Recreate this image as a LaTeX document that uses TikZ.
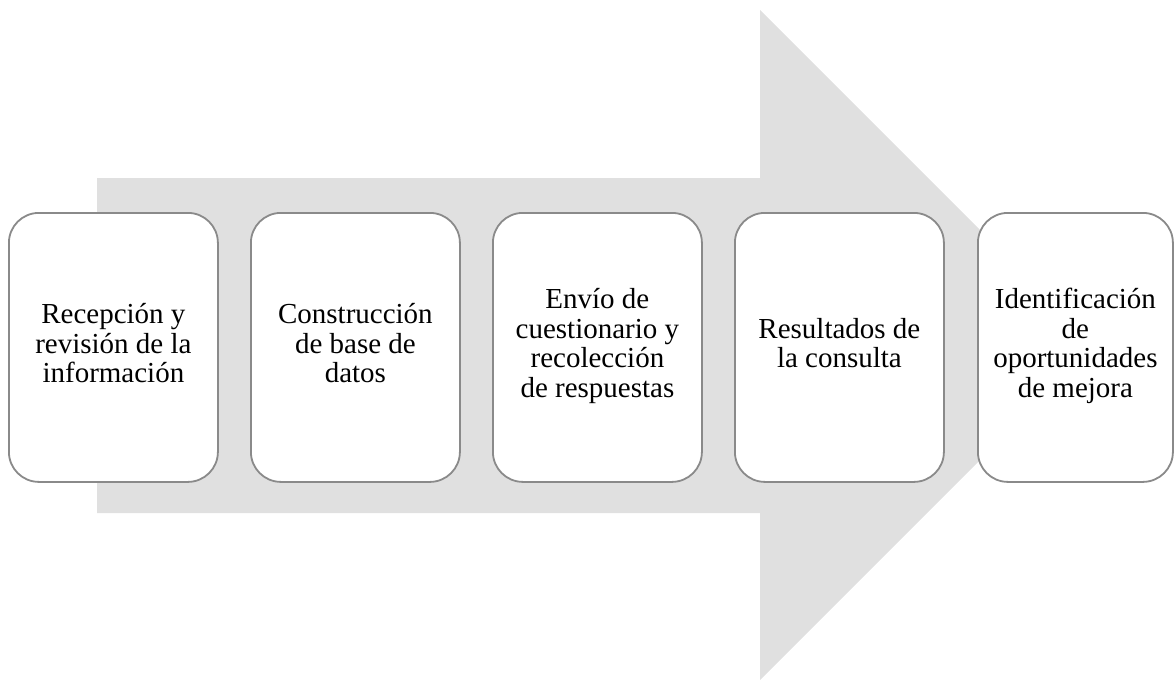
\documentclass[tikz,border=0pt]{standalone}
\usepackage{fontspec}
\setmainfont{Liberation Serif}
\definecolor{arrowgray}{RGB}{224,224,224}
\definecolor{boxline}{RGB}{138,138,138}
\tikzset{
  stepbox/.style={draw=boxline, line width=1.8pt, fill=white, rounded corners=30pt,
    inner sep=0pt, align=center, anchor=north west,
    font=\fontsize{29}{29.6}\selectfont,
    execute at begin node=\strut, execute at end node=\strut},
}
\begin{document}
\begin{tikzpicture}[x=1pt,y=-1pt]
\useasboundingbox (0,0) rectangle (1174,680);
% big arrow
\fill[arrowgray] (97,178) -- (760,178) -- (760,10) -- (1095,345) -- (760,680) -- (760,513) -- (97,513) -- cycle;
% boxes
\node[stepbox, minimum width=209pt, minimum height=269pt] (b1) at (8,212) {Recepción y\\revisión de la\\información};
\node[stepbox, minimum width=209pt, minimum height=269pt] (b2) at (250,212) {Construcción\\de base de\\datos};
\node[stepbox, minimum width=209pt, minimum height=269pt] (b3) at (492,212) {Envío de\\cuestionario y\\recolección\\de respuestas};
\node[stepbox, minimum width=209pt, minimum height=269pt] (b4) at (734,212) {Resultados de\\la consulta};
\node[stepbox, minimum width=195pt, minimum height=269pt] (b5) at (977,212) {Identificación\\de\\oportunidades\\de mejora};
\end{tikzpicture}
\end{document}
